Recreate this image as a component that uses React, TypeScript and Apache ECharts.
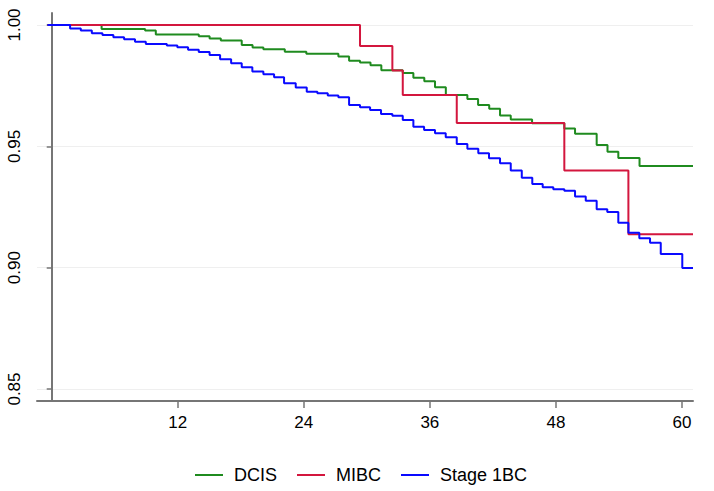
import React, { useEffect, useRef } from "react";
import * as echarts from "echarts";

const seriesNames = ["DCIS", "MIBC", "Stage 1BC"];

const dcisTime = [-0.4, 4.75, 8.89, 9.91, 14.0, 15.03, 16.1, 18.09, 19.12, 20.15, 22.19, 24.24, 27.29, 28.31, 29.35, 30.35, 31.38, 33.42, 34.43, 35.47, 36.49, 37.52, 39.57, 40.59, 41.65, 42.68, 43.7, 45.73, 48.8, 49.82, 51.88, 52.91, 53.94, 55.96, 61.05];
const dcisSurv = [1.0, 0.9983, 0.9977, 0.9961, 0.9954, 0.9944, 0.9936, 0.9918, 0.9907, 0.99, 0.989, 0.9881, 0.987, 0.9853, 0.9845, 0.9834, 0.9814, 0.9802, 0.9783, 0.9768, 0.9743, 0.9711, 0.9695, 0.967, 0.9655, 0.9627, 0.9611, 0.9595, 0.9573, 0.9552, 0.9505, 0.9478, 0.9452, 0.9419, 0.9419];

const mibcTime = [-0.4, 29.35, 32.43, 33.42, 38.56, 48.8, 54.9, 61.05];
const mibcSurv = [1.0, 0.9913, 0.9812, 0.9712, 0.9596, 0.94, 0.9138, 0.9138];

const stageTime = [-0.4, 1.75, 2.77, 3.82, 4.83, 5.87, 6.89, 7.93, 8.96, 10.96, 11.96, 12.98, 14.0, 15.03, 16.03, 17.08, 18.09, 19.1, 20.15, 21.17, 22.12, 23.23, 24.28, 25.29, 26.28, 27.29, 28.31, 29.35, 30.31, 31.35, 32.43, 33.42, 34.43, 35.45, 36.49, 37.51, 38.56, 39.57, 40.61, 41.63, 42.68, 43.7, 44.75, 45.75, 46.74, 47.75, 48.8, 49.82, 50.84, 51.88, 52.89, 53.94, 54.9, 55.94, 56.96, 57.98, 60.03, 61.05];
const stageSurv = [1.0, 0.9986, 0.9977, 0.9966, 0.9959, 0.9949, 0.9941, 0.9931, 0.9922, 0.9915, 0.9908, 0.9898, 0.9889, 0.9876, 0.9859, 0.9842, 0.9826, 0.9808, 0.9797, 0.9785, 0.976, 0.9742, 0.9725, 0.9719, 0.9709, 0.9702, 0.967, 0.9661, 0.965, 0.9633, 0.9626, 0.9609, 0.9581, 0.9567, 0.9554, 0.9537, 0.951, 0.949, 0.9471, 0.9451, 0.943, 0.94, 0.9371, 0.9345, 0.9331, 0.9323, 0.9317, 0.9293, 0.9276, 0.9241, 0.9229, 0.9185, 0.9144, 0.9121, 0.9103, 0.9056, 0.8999, 0.8999];

const xTicks = [12, 24, 36, 48, 60];
const yTicks = [0.85, 0.9, 0.95, 1.0];

const colors = ["#1f8b1f", "#d3163e", "#0a0aff"];

const FONT = "'Liberation Sans', Arial, sans-serif";

function zip(t: number[], s: number[]) {
  return t.map((v, i) => [v, s[i]]);
}

export default function App() {
  const ref = useRef<HTMLDivElement>(null);
  useEffect(() => {
    const chart = echarts.init(ref.current!, null, { renderer: "svg" });
    const axisColor = "#767676";
    const datasets = [zip(dcisTime, dcisSurv), zip(mibcTime, mibcSurv), zip(stageTime, stageSurv)];
    chart.setOption({
      animation: false,
      backgroundColor: "#ffffff",
      textStyle: { fontFamily: FONT },
      grid: { left: 37, right: 21, top: 13, bottom: 90, containLabel: false },
      xAxis: {
        type: "value",
        min: -1.4,
        max: 61.05,
        axisLine: { show: true, lineStyle: { color: axisColor, width: 2 } },
        axisTick: { show: true, length: 7, lineStyle: { color: axisColor, width: 1.5 }, customValues: xTicks },
        axisLabel: { color: "#000", fontSize: 17, fontFamily: FONT, margin: 13, customValues: xTicks },
        splitLine: { show: false },
      },
      yAxis: {
        type: "value",
        min: 0.84506,
        max: 1.00494,
        axisLine: { show: true, lineStyle: { color: axisColor, width: 2 } },
        axisTick: { show: true, length: 5, lineStyle: { color: axisColor, width: 1.5 }, customValues: yTicks },
        axisLabel: {
          color: "#000",
          fontSize: 17,
          fontFamily: FONT,
          rotate: 90,
          margin: 14,
          customValues: yTicks,
          formatter: (v: number) => v.toFixed(2),
        },
        splitLine: { show: true, lineStyle: { color: "#efefef", width: 1 } },
      },
      legend: {
        left: 190,
        top: 461,
        icon: "rect",
        itemWidth: 28,
        itemHeight: 2,
        itemGap: 20,
        textStyle: { color: "#000", fontSize: 18, fontFamily: FONT, padding: [0, 0, 0, 6] },
        data: seriesNames,
      },
      series: seriesNames.map((name, i) => ({
        name,
        type: "line",
        step: "end",
        data: datasets[i],
        showSymbol: false,
        symbol: "none",
        lineStyle: { color: colors[i], width: 2 },
        itemStyle: { color: colors[i] },
        z: 2 + i,
      })),
    });
    return () => chart.dispose();
  }, []);
  return <div ref={ref} style={{ position: "fixed", left: 0, top: 0, width: 714, height: 491 }} />;
}
